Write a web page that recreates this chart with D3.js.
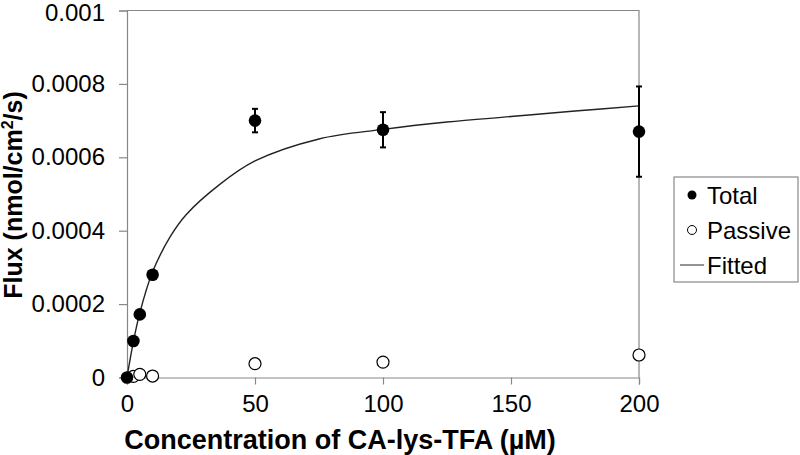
<!DOCTYPE html>
<html><head><meta charset="utf-8">
<script src="https://cdn.jsdelivr.net/npm/d3@7"></script>
<style>body{margin:0;background:#fff}svg{display:block;font-family:Arial,"Liberation Sans",sans-serif}</style>
</head><body>
<script>
const totalX = [0, 2.5, 5, 10, 50, 100, 200];
const totalY = [0, 0.0000995, 0.000172, 0.00028, 0.0007, 0.000675, 0.00067];
const totalErr = [0, 0, 0, 0, 0.000032, 0.000048, 0.000123];
const passiveX = [2.5, 5, 10, 50, 100, 200];
const passiveY = [0.000003, 0.0000087, 0.000004, 0.0000376, 0.000042, 0.0000613];
const fitX = [0, 2.5, 5, 10, 17, 23, 36, 50, 75, 100, 125, 150, 175, 200];
const fitY = [0, 0.0000975, 0.000176, 0.000288, 0.000385, 0.000443, 0.000525, 0.00059, 0.00065, 0.000676, 0.000696, 0.000711, 0.000726, 0.00074];
const xTicks = [0, 50, 100, 150, 200];
const yTicks = [0, 0.0002, 0.0004, 0.0006, 0.0008, 0.001];
const yTickLabels = ["0", "0.0002", "0.0004", "0.0006", "0.0008", "0.001"];
const legendLabels = ["Total", "Passive", "Fitted"];

const W = 800, H = 455;
const m = {left: 127, right: 161, top: 10.5, bottom: 77.5};
const svg = d3.select("body").append("svg").attr("width", W).attr("height", H);
const x = d3.scaleLinear().domain([0, 200]).range([m.left, W - m.right]);
const y = d3.scaleLinear().domain([0, 0.001]).range([H - m.bottom, m.top]);
const grey = "#888";

// border top & right
svg.append("path").attr("d", `M${x(0)},${y(0.001)}H${x(200)}V${y(0)}`).attr("fill", "none").attr("stroke", grey).attr("stroke-width", 1.2);

const yAxis = svg.append("g").attr("transform", `translate(${x(0)},0)`)
  .call(d3.axisLeft(y).tickValues(yTicks).tickFormat((d, i) => yTickLabels[i]).tickSize(8).tickPadding(14));
const xAxis = svg.append("g").attr("transform", `translate(0,${y(0)})`)
  .call(d3.axisBottom(x).tickValues(xTicks).tickSize(7).tickPadding(10));
[yAxis, xAxis].forEach(g => {
  g.select(".domain").attr("stroke", grey).attr("stroke-width", 1.2);
  g.selectAll(".tick line").attr("stroke", grey).attr("stroke-width", 1.2);
  g.selectAll(".tick text").attr("fill", "#000").style("font-size", "24px").style("font-family", 'Arial,"Liberation Sans",sans-serif');
});
yAxis.selectAll(".tick text").filter((d, i) => i === yTicks.length - 1).attr("dy", "0.4em");

// fitted curve
const line = d3.line().x(d => x(d[0])).y(d => y(d[1])).curve(d3.curveCatmullRom.alpha(0.5));
svg.append("path").datum(fitX.map((v, i) => [v, fitY[i]])).attr("d", line)
  .attr("fill", "none").attr("stroke", "#222").attr("stroke-width", 1.4);

// error bars
const tot = totalX.map((v, i) => ({x: v, y: totalY[i], e: totalErr[i]}));
const eb = svg.append("g").attr("stroke", "#000").attr("stroke-width", 2);
tot.filter(d => d.e > 0).forEach(d => {
  eb.append("line").attr("x1", x(d.x)).attr("x2", x(d.x)).attr("y1", y(d.y - d.e)).attr("y2", y(d.y + d.e));
  [d.y - d.e, d.y + d.e].forEach(v => eb.append("line").attr("x1", x(d.x) - 3).attr("x2", x(d.x) + 3).attr("y1", y(v)).attr("y2", y(v)));
});

// passive points
svg.append("g").selectAll("circle").data(passiveX.map((v, i) => [v, passiveY[i]])).join("circle")
  .attr("cx", d => x(d[0])).attr("cy", d => y(d[1])).attr("r", 6)
  .attr("fill", "#fff").attr("stroke", "#000").attr("stroke-width", 1.2);
// total points
svg.append("g").selectAll("circle").data(tot).join("circle")
  .attr("cx", d => x(d.x)).attr("cy", d => y(d.y)).attr("r", 6.3).attr("fill", "#000");

// axis titles
svg.append("text").attr("x", 340).attr("y", 449).attr("text-anchor", "middle")
  .style("font-size", "27px").style("font-weight", "bold").text("Concentration of CA-lys-TFA (µM)");
const yt = svg.append("text").attr("transform", "translate(22,195) rotate(-90)").attr("text-anchor", "middle")
  .style("font-size", "25px").style("font-weight", "bold");
yt.append("tspan").text("Flux (nmol/cm");
yt.append("tspan").attr("dy", -9).style("font-size", "16px").text("2");
yt.append("tspan").attr("dy", 9).text("/s)");

// legend
const lg = svg.append("g");
lg.append("rect").attr("x", 674).attr("y", 177).attr("width", 124).attr("height", 105)
  .attr("fill", "#fff").attr("stroke", grey).attr("stroke-width", 1.2);
const rowsY = [195, 230, 265];
lg.append("circle").attr("cx", 692).attr("cy", rowsY[0]).attr("r", 4.5).attr("fill", "#000");
lg.append("circle").attr("cx", 692).attr("cy", rowsY[1]).attr("r", 4.5).attr("fill", "#fff").attr("stroke", "#000").attr("stroke-width", 1);
lg.append("line").attr("x1", 680).attr("x2", 704).attr("y1", rowsY[2]).attr("y2", rowsY[2]).attr("stroke", "#666").attr("stroke-width", 1.4);
legendLabels.forEach((t, i) => lg.append("text").attr("x", 707).attr("y", rowsY[i] + 8.6).style("font-size", "24px").text(t));
</script>
</body></html>
